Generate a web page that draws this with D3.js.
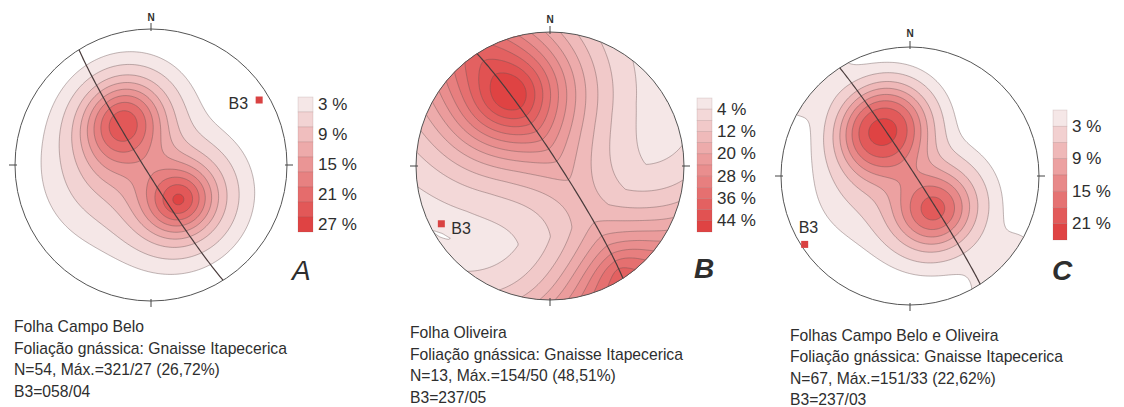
<!DOCTYPE html>
<html>
<head>
<meta charset="utf-8">
<script src="https://cdn.jsdelivr.net/npm/d3@7"></script>
<style>
body { margin: 0; background: #fff; }
text { font-family: "Liberation Sans", Arial, sans-serif; fill: #2e2e2e; }
</style>
</head>
<body>
<svg id="fig" width="1124" height="407"></svg>
<script>
// pole concentrations: [trend, plunge, weight %, spread deg, shape]
const polesA = [[141, 63, 24, 24, 1.7], [333, 55, 11, 25, 2.0], [321, 63, 11, 25, 2.0], [258, 62, 5, 31, 1.8]];
const polesB = [[331, 40, 36, 42, 1.6], [147, 8, 16, 32, 1.5]];
const polesC = [[334, 50, 11, 28, 2.5], [325, 61, 11, 28, 2.5], [144, 64, 19, 26, 2.0],
                [258, 60, 3, 30, 1.8], [134, 2, 1.7, 20, 2.0]];
// girdle around B3: [weight %, spread deg, shape]
const girdleA = [0, 20, 2];
const girdleB = [10, 28, 1.5];
const girdleC = [0, 20, 2];
// contour thresholds (%)
const levelsA = [1, 3, 6, 9, 12, 15, 18, 21, 24];
const levelsB = [1.5, 4, 8, 12, 16, 20, 24, 28, 32, 36, 40, 44];
const levelsC = [1, 3, 6, 9, 12, 15, 18, 21];
// legend labels
const keyA = ["3 %", "9 %", "15 %", "21 %", "27 %"];
const keyB = ["4 %", "12 %", "20 %", "28 %", "36 %", "44 %"];
const keyC = ["3 %", "9 %", "15 %", "21 %"];
// B3 axis [trend, plunge]: as printed, and as plotted
const axisA = [58, 4], axisB = [237, 5], axisC = [237, 3];
const markA = [59, 8], markB = [242, 9], markC = [237, 3];
const notesA = ["Folha Campo Belo", "Foliação gnássica: Gnaisse Itapecerica", "N=54, Máx.=321/27 (26,72%)", "B3=058/04"];
const notesB = ["Folha Oliveira", "Foliação gnássica: Gnaisse Itapecerica", "N=13, Máx.=154/50 (48,51%)", "B3=237/05"];
const notesC = ["Folhas Campo Belo e Oliveira", "Foliação gnássica: Gnaisse Itapecerica", "N=67, Máx.=151/33 (22,62%)", "B3=237/03"];

const svg = d3.select("#fig");
const defs = svg.append("defs");
const rad = Math.PI / 180;

function lineVec(tr, pl) {
    return [Math.cos(pl * rad) * Math.sin(tr * rad), Math.cos(pl * rad) * Math.cos(tr * rad), Math.sin(pl * rad)];
}
// lower hemisphere, equal area, unit radius
function toNet(v) {
    let [e, n, d] = v;
    if (d < 0) { e = -e; n = -n; d = -d; }
    const r = Math.SQRT2 * Math.sin(Math.acos(Math.min(1, d)) / 2);
    const h = Math.hypot(e, n) || 1;
    return [r * e / h, r * n / h];
}
function fromNet(u, v) {
    const r = Math.min(Math.hypot(u, v), Math.SQRT2);
    const th = 2 * Math.asin(r / Math.SQRT2);
    const az = Math.atan2(u, v);
    return [Math.sin(th) * Math.sin(az), Math.sin(th) * Math.cos(az), Math.cos(th)];
}
const dot = (a, b) => a[0] * b[0] + a[1] * b[1] + a[2] * b[2];
const unit = a => { const l = Math.hypot(...a); return a.map(x => x / l); };

function net(opt) {
    const { cx, cy, R, poles, girdle, axis, mark, levels, key } = opt;
    const g = svg.append("g");
    const sx = d3.scaleLinear().domain([-1, 1]).range([cx - R, cx + R]);
    const sy = d3.scaleLinear().domain([-1, 1]).range([cy + R, cy - R]);

    // density grid
    const n = 170, E = 1.08;
    const gx = d3.scaleLinear().domain([0, n]).range([-E, E]);
    const gy = d3.scaleLinear().domain([0, n]).range([E, -E]);
    const cv = poles.map(p => ({ c: lineVec(p[0], p[1]), w: p[2], s: p[3], q: p[4] }));
    const b = lineVec(axis[0], axis[1]);
    const values = new Float64Array(n * n);
    for (let j = 0; j < n; j++) {
        for (let i = 0; i < n; i++) {
            const p = fromNet(gx(i + 0.5), gy(j + 0.5));
            let s = 0;
            cv.forEach(k => {
                const a = Math.acos(Math.min(1, Math.abs(dot(p, k.c)))) / rad;
                s += k.w * Math.exp(-Math.pow(a / k.s, k.q));
            });
            const beta = Math.asin(Math.min(1, Math.abs(dot(p, b)))) / rad;
            s += girdle[0] * Math.exp(-Math.pow(beta / girdle[1], girdle[2]));
            values[j * n + i] = s;
        }
    }
    const bands = d3.contours().size([n, n]).thresholds(levels)(values);
    const color = d3.scaleLinear().domain([0, levels.length - 1]).range(["#f5e7e7", "#df4343"]);
    const path = d3.geoPath(d3.geoTransform({
        point: function(x, y) { this.stream.point(sx(gx(x)), sy(gy(y))); }
    }));

    const id = "clip" + cx;
    defs.append("clipPath").attr("id", id)
        .append("circle").attr("cx", cx).attr("cy", cy).attr("r", R);
    g.append("g").attr("clip-path", `url(#${id})`)
        .selectAll("path").data(bands).join("path")
        .attr("d", path)
        .attr("fill", (d, i) => color(i))
        .attr("stroke", "#6a5555")
        .attr("stroke-opacity", 0.7)
        .attr("stroke-width", 0.6);

    // great circle normal to B3 (lower half only)
    const e1 = unit([b[1], -b[0], 0]);
    let e2 = [b[1] * e1[2] - b[2] * e1[1], b[2] * e1[0] - b[0] * e1[2], b[0] * e1[1] - b[1] * e1[0]];
    if (e2[2] < 0) e2 = e2.map(x => -x);
    const gc = d3.range(0, 181, 2).map(t =>
        toNet(e1.map((x, i) => x * Math.cos(t * rad) + e2[i] * Math.sin(t * rad))));
    g.append("path")
        .attr("d", d3.line().x(d => sx(d[0])).y(d => sy(d[1]))(gc))
        .attr("fill", "none").attr("stroke", "#4a3c3c").attr("stroke-width", 1.2);

    // primitive, ticks, N
    g.append("circle").attr("cx", cx).attr("cy", cy).attr("r", R)
        .attr("fill", "none").attr("stroke", "#555").attr("stroke-width", 1);
    [[0, 1], [1, 0], [0, -1], [-1, 0]].forEach(([a, c]) => {
        g.append("line")
            .attr("x1", cx + a * (R - 2)).attr("y1", cy - c * (R - 2))
            .attr("x2", cx + a * (R + 6)).attr("y2", cy - c * (R + 6))
            .attr("stroke", "#444").attr("stroke-width", 1);
    });
    g.append("text").attr("x", cx).attr("y", cy - R - opt.nGap)
        .attr("text-anchor", "middle").attr("font-size", 10).attr("font-weight", "bold")
        .text("N");

    // B3 marker
    const m = toNet(lineVec(mark[0], mark[1]));
    const mx = sx(m[0]), my = sy(m[1]);
    g.append("rect").attr("x", mx - 3.5).attr("y", my - 3.5).attr("width", 7).attr("height", 7)
        .attr("fill", "#d94242");
    g.append("text").attr("x", mx + opt.b3dx).attr("y", my + opt.b3dy)
        .attr("text-anchor", opt.b3anchor).attr("font-size", 16).text("B3");

    // legend
    const lg = opt.legend;
    const bh = lg.h / levels.length;
    g.append("g").selectAll("rect").data(levels).join("rect")
        .attr("x", lg.x).attr("y", (d, i) => lg.y + i * bh)
        .attr("width", lg.w).attr("height", bh)
        .attr("fill", (d, i) => color(i))
        .attr("stroke", "rgba(120,80,80,0.25)").attr("stroke-width", 0.6);
    g.append("g").selectAll("text").data(key).join("text")
        .attr("x", lg.x + lg.w + 5)
        .attr("y", (d, i) => lg.y + (lg.centred ? (2 * i + 0.5) * bh : (2 * i + 1) * bh))
        .attr("dominant-baseline", "central")
        .attr("font-size", 17)
        .text(d => d);

    // panel letter
    g.append("text").attr("x", opt.letter.x).attr("y", opt.letter.y)
        .attr("font-size", 28).attr("font-style", "italic")
        .attr("font-weight", opt.letter.bold ? "bold" : "normal")
        .text(opt.letter.t);

    // caption
    g.append("g").selectAll("text").data(opt.notes).join("text")
        .attr("x", opt.cap.x).attr("y", (d, i) => opt.cap.y + i * 21.6)
        .attr("font-size", 15.7)
        .text(d => d);
}

net({ cx: 151, cy: 165, R: 136, poles: polesA, girdle: girdleA, axis: axisA, mark: markA,
      levels: levelsA, key: keyA, b3dx: -11, b3dy: 9, b3anchor: "end", nGap: 8,
      legend: { x: 298, y: 97, w: 15, h: 135, centred: true },
      letter: { x: 292, y: 280, t: "A", bold: false },
      notes: notesA, cap: { x: 14, y: 332 } });
net({ cx: 550, cy: 166, R: 134, poles: polesB, girdle: girdleB, axis: axisB, mark: markB,
      levels: levelsB, key: keyB, b3dx: 10, b3dy: 10, b3anchor: "start", nGap: 9,
      legend: { x: 697, y: 98, w: 15, h: 134, centred: false },
      letter: { x: 694, y: 278, t: "B", bold: true },
      notes: notesB, cap: { x: 410, y: 338 } });
net({ cx: 910, cy: 176, R: 129, poles: polesC, girdle: girdleC, axis: axisC, mark: markC,
      levels: levelsC, key: keyC, b3dx: -6, b3dy: -11, b3anchor: "start", nGap: 10,
      legend: { x: 1053, y: 110, w: 14, h: 130, centred: false },
      letter: { x: 1052, y: 280, t: "C", bold: true },
      notes: notesC, cap: { x: 790, y: 340.5 } });
</script>
</body>
</html>
